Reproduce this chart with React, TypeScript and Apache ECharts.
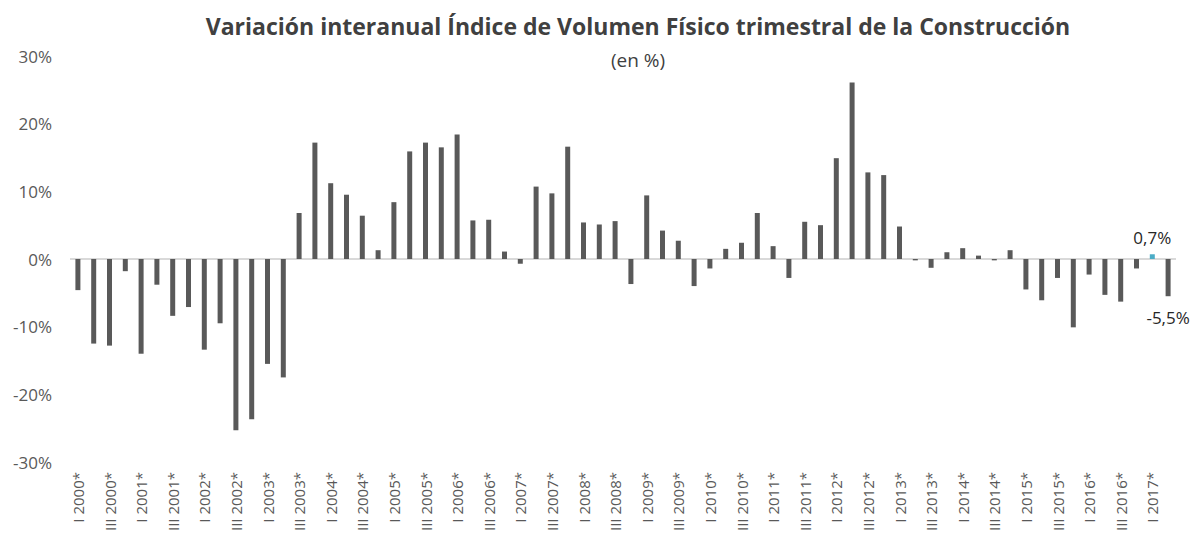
import React, { useEffect, useRef } from "react";
import * as echarts from "echarts";

const quarters = ["I", "II", "III", "IV"];
const years = [2000, 2001, 2002, 2003, 2004, 2005, 2006, 2007, 2008, 2009, 2010, 2011, 2012, 2013, 2014, 2015, 2016, 2017];

const values = [
  -4.6, -12.5, -12.8, -1.8,
  -14.0, -3.8, -8.4, -7.1,
  -13.4, -9.5, -25.3, -23.7,
  -15.5, -17.5, 6.8, 17.2,
  11.2, 9.5, 6.4, 1.3,
  8.4, 15.9, 17.2, 16.5,
  18.4, 5.7, 5.8, 1.1,
  -0.7, 10.7, 9.7, 16.6,
  5.4, 5.1, 5.6, -3.7,
  9.4, 4.2, 2.7, -4.0,
  -1.4, 1.5, 2.4, 6.8,
  1.9, -2.8, 5.5, 5.0,
  14.9, 26.1, 12.8, 12.4,
  4.8, -0.2, -1.3, 1.0,
  1.6, 0.5, -0.2, 1.3,
  -4.5, -6.1, -2.8, -10.1,
  -2.3, -5.3, -6.3, -1.4,
  0.7, -5.5,
];

const categories: string[] = [];
years.forEach((y) => quarters.forEach((q) => categories.push(`${q} ${y}*`)));
categories.length = values.length;

const highlightIndex = 68; // I 2017*
const lastIndex = 69; // II 2017*

const FONT = "'Open Sans', sans-serif";

export default function App() {
  const ref = useRef<HTMLDivElement>(null);
  useEffect(() => {
    if (!ref.current) return;
    const chart = echarts.init(ref.current, undefined, { renderer: "svg" });
    const data = values.map((v, i) => {
      const item: any = { value: v };
      if (i === highlightIndex) {
        item.itemStyle = { color: "#4BACC6" };
        item.label = {
          show: true,
          position: "top",
          distance: 8,
          formatter: () => "0,7%",
          fontSize: 17,
          color: "#262626",
          fontFamily: FONT,
        };
      }
      if (i === lastIndex) {
        item.label = {
          show: true,
          position: "bottom",
          distance: 13,
          formatter: () => "-5,5%",
          fontSize: 17,
          color: "#262626",
          fontFamily: FONT,
        };
      }
      return item;
    });
    chart.setOption({
      animation: false,
      textStyle: { fontFamily: FONT },
      graphic: [
        {
          type: "text",
          x: 638,
          y: 14,
          style: {
            text: "Variación interanual Índice de Volumen Físico trimestral de la Construcción",
            fontSize: 23,
            fontWeight: "bold",
            fontFamily: FONT,
            fill: "#404040",
            textAlign: "center",
          },
        },
        {
          type: "text",
          x: 638,
          y: 50,
          style: {
            text: "(en %)",
            fontSize: 19,
            fontFamily: FONT,
            fill: "#404040",
            textAlign: "center",
          },
        },
      ],
      grid: { left: 70, right: 16, top: 56, bottom: 83, containLabel: false },
      xAxis: {
        type: "category",
        data: categories,
        axisLine: { show: false, onZero: false },
        axisTick: { show: false },
        axisLabel: {
          interval: 1,
          rotate: 90,
          fontSize: 15,
          color: "#595959",
          margin: 10,
          fontFamily: FONT,
        },
        splitLine: { show: false },
      },
      yAxis: {
        type: "value",
        min: -30,
        max: 30,
        interval: 10,
        axisLine: { show: false },
        axisTick: { show: false },
        splitLine: { show: false },
        axisLabel: {
          formatter: "{value}%",
          fontSize: 17,
          color: "#595959",
          margin: 18,
          fontFamily: FONT,
        },
      },
      series: [
        {
          type: "bar",
          data,
          barWidth: 5,
          itemStyle: { color: "#595959" },
          markLine: {
            silent: true,
            symbol: "none",
            label: { show: false },
            lineStyle: { color: "#D9D9D9", width: 2, type: "solid" },
            data: [{ yAxis: 0 }],
            z: 1,
          },
        },
      ],
    });
    return () => chart.dispose();
  }, []);
  return (
    <div
      ref={ref}
      style={{ position: "absolute", left: 0, top: 0, width: 1192, height: 545, background: "#fff" }}
    />
  );
}
